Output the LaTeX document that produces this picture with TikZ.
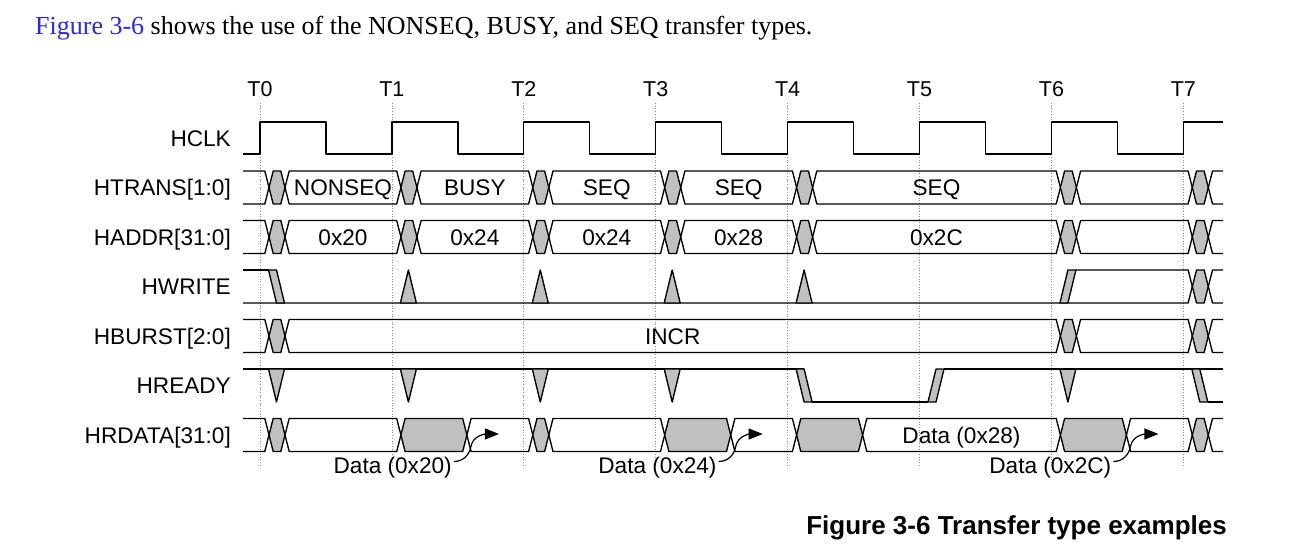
\documentclass[tikz,border=0pt]{standalone}
\usepackage{fontspec}
\setmainfont{Liberation Serif}
\setsansfont{Liberation Sans}
\usetikzlibrary{arrows.meta}
\definecolor{gfill}{HTML}{C0C0C0}
\definecolor{linkblue}{HTML}{2B2BD6}
\def\tk#1{(260+131.9*#1)}
\def\hx{4.2}
\def\hh{16.5}
\newcommand\valbox[4]{\draw[sig,fill=#4] ({#1},#3) -- ({#1+\hx},{#3-\hh}) -- ({#2-\hx},{#3-\hh}) -- ({#2},#3) -- ({#2-\hx},{#3+\hh}) -- ({#1+\hx},{#3+\hh}) -- cycle;}
\newcommand\openL[2]{\draw[sig] (243,{#2-\hh}) -- ({#1-\hx},{#2-\hh}) -- ({#1},#2) -- ({#1-\hx},{#2+\hh}) -- (243,{#2+\hh});}
\newcommand\openR[2]{\draw[sig] (1223,{#2-\hh}) -- ({#1+\hx},{#2-\hh}) -- ({#1},#2) -- ({#1+\hx},{#2+\hh}) -- (1223,{#2+\hh});}
\newcommand\gx[2]{\valbox{\tk#1+9}{\tk#1+25}{#2}{gfill}}
\newcommand\stdbus[1]{%
  \openL{\tk0+9}{#1}
  \gx{0}{#1}\valbox{\tk0+25}{\tk1+9}{#1}{none}
  \gx{1}{#1}\valbox{\tk1+25}{\tk2+9}{#1}{none}
  \gx{2}{#1}\valbox{\tk2+25}{\tk3+9}{#1}{none}
  \gx{3}{#1}\valbox{\tk3+25}{\tk4+9}{#1}{none}
  \gx{4}{#1}\valbox{\tk4+25}{\tk6+9}{#1}{none}
  \gx{6}{#1}\valbox{\tk6+25}{\tk7+9}{#1}{none}
  \gx{7}{#1}\openR{\tk7+25}{#1}}
\begin{document}
\begin{tikzpicture}[x=1pt,y=-1pt,
  sig/.style={line width=1.35pt, draw=black, line join=round},
  guide/.style={line width=0.7pt, draw=black!45, dotted},
  lab/.style={font=\sffamily\fontsize{22.6}{26}\selectfont, inner sep=0pt},
  tlab/.style={font=\sffamily\fontsize{21.5}{25}\selectfont, inner sep=0pt, anchor=base},
  arr/.style={line width=1.2pt, -{Triangle[length=14pt,width=11pt]}}]
\useasboundingbox (0,0) rectangle (1303,551);
\fill[white] (0,0) rectangle (1303,551);

% title and caption
\node[anchor=base west, inner sep=0pt, font=\fontsize{26}{30}\selectfont] (title) at (35,34.5)
  {\textcolor{linkblue}{Figure 3-6} shows the use of the NONSEQ, BUSY, and SEQ transfer types.};
\node[anchor=base east, inner sep=0pt, font=\sffamily\bfseries\fontsize{26}{30}\selectfont] (caption) at (1227,534)
  {Figure 3-6 Transfer type examples};

% clock edge guides and labels
\foreach \k in {0,...,7}{
  \draw[guide] ({\tk\k},103) -- ({\tk\k},466);
  \node[tlab] (T\k) at ({\tk\k},96) {T\k};
}

% signal names
\node[lab, anchor=base east] (nHCLK) at (231,146) {HCLK};
\node[lab, anchor=base east] (nHTRANS) at (231,195.5) {HTRANS[1:0]};
\node[lab, anchor=base east] (nHADDR) at (231,245) {HADDR[31:0]};
\node[lab, anchor=base east] (nHWRITE) at (231,294.5) {HWRITE};
\node[lab, anchor=base east] (nHBURST) at (231,344) {HBURST[2:0]};
\node[lab, anchor=base east] (nHREADY) at (231,393.5) {HREADY};
\node[lab, anchor=base east] (nHRDATA) at (231,443) {HRDATA[31:0]};

% HCLK
\draw[sig] (243,154) -- (260,154) -- (260,122) -- (325.95,122) -- (325.95,154)
  -- (391.9,154) -- (391.9,122) -- (457.85,122) -- (457.85,154)
  -- (523.8,154) -- (523.8,122) -- (589.75,122) -- (589.75,154)
  -- (655.7,154) -- (655.7,122) -- (721.65,122) -- (721.65,154)
  -- (787.6,154) -- (787.6,122) -- (853.55,122) -- (853.55,154)
  -- (919.5,154) -- (919.5,122) -- (985.45,122) -- (985.45,154)
  -- (1051.4,154) -- (1051.4,122) -- (1117.35,122) -- (1117.35,154)
  -- (1183.3,154) -- (1183.3,122) -- (1223,122);

% HTRANS
\stdbus{187.5}
\node[lab, anchor=base] (vNONSEQ) at (342.95,195.5) {NONSEQ};
\node[lab, anchor=base] (vBUSY) at (474.85,195.5) {BUSY};
\node[lab, anchor=base] (vSEQa) at (606.75,195.5) {SEQ};
\node[lab, anchor=base] (vSEQb) at (738.65,195.5) {SEQ};
\node[lab, anchor=base] (vSEQc) at (936.5,195.5) {SEQ};

% HADDR
\stdbus{237}
\node[lab, anchor=base] (a20) at (342.95,245) {0x20};
\node[lab, anchor=base] (a24) at (474.85,245) {0x24};
\node[lab, anchor=base] (a24b) at (606.75,245) {0x24};
\node[lab, anchor=base] (a28) at (738.65,245) {0x28};
\node[lab, anchor=base] (a2C) at (936.5,245) {0x2C};

% HWRITE
\draw[sig] (243,270) -- ({\tk0+8.5},270);
\draw[sig] (243,303) -- ({\tk7+9-\hx},303) -- ({\tk7+9},286.5);
\draw[sig] ({\tk6+24.5},270) -- ({\tk7+9-\hx},270) -- ({\tk7+9},286.5);
\draw[sig,fill=gfill] ({\tk0+8.5},270) -- ({\tk0+16.5},270) -- ({\tk0+24.5},303) -- ({\tk0+16.5},303) -- cycle;
\foreach \k in {1,2,3,4}{
  \draw[sig,fill=gfill] ({\tk\k+8.5},303) -- ({\tk\k+16.5},270) -- ({\tk\k+24.5},303) -- cycle;
}
\draw[sig,fill=gfill] ({\tk6+8.5},303) -- ({\tk6+16.5},270) -- ({\tk6+24.5},270) -- ({\tk6+16.5},303) -- cycle;
\gx{7}{286.5}
\openR{\tk7+25}{286.5}

% HBURST
\openL{\tk0+9}{336}
\gx{0}{336}\valbox{\tk0+25}{\tk6+9}{336}{none}
\gx{6}{336}\valbox{\tk6+25}{\tk7+9}{336}{none}
\gx{7}{336}\openR{\tk7+25}{336}
\node[lab, anchor=base] (vINCR) at (672.7,344) {INCR};

% HREADY
\draw[sig] (243,369) -- ({\tk4+16.5},369);
\foreach \k in {0,1,2,3,6}{
  \draw[sig,fill=gfill] ({\tk\k+8.5},369) -- ({\tk\k+16.5},402) -- ({\tk\k+24.5},369) -- cycle;
}
\draw[sig,fill=gfill] ({\tk4+8.5},369) -- ({\tk4+16.5},369) -- ({\tk4+24.5},402) -- ({\tk4+16.5},402) -- cycle;
\draw[sig] ({\tk4+24.5},402) -- ({\tk5+8.5},402);
\draw[sig,fill=gfill] ({\tk5+8.5},402) -- ({\tk5+16.5},369) -- ({\tk5+24.5},369) -- ({\tk5+16.5},402) -- cycle;
\draw[sig] ({\tk5+24.5},369) -- (1223,369);
\draw[sig,fill=gfill] ({\tk7+8.5},369) -- ({\tk7+16.5},369) -- ({\tk7+24.5},402) -- ({\tk7+16.5},402) -- cycle;
\draw[sig] ({\tk7+24.5},402) -- (1223,402);

% HRDATA
\openL{\tk0+9}{435}
\gx{0}{435}\valbox{\tk0+25}{\tk1+9}{435}{none}
\valbox{\tk1+9}{\tk1+75}{435}{gfill}\valbox{\tk1+75}{\tk2+9}{435}{none}
\gx{2}{435}\valbox{\tk2+25}{\tk3+9}{435}{none}
\valbox{\tk3+9}{\tk3+75}{435}{gfill}\valbox{\tk3+75}{\tk4+9}{435}{none}
\valbox{\tk4+9}{\tk4+75}{435}{gfill}\valbox{\tk4+75}{\tk6+9}{435}{none}
\valbox{\tk6+9}{\tk6+75}{435}{gfill}\valbox{\tk6+75}{\tk7+9}{435}{none}
\gx{7}{435}\openR{\tk7+25}{435}
\node[lab, anchor=base] (v28) at (961.5,443) {Data (0x28)};

% data labels with arrows
\node[lab, anchor=base east] (d20) at ({\tk1+60},473.5) {Data (0x20)};
\node[lab, anchor=base east] (d24) at ({\tk3+61},473.5) {Data (0x24)};
\node[lab, anchor=base east] (d2C) at ({\tk6+60},473.5) {Data (0x2C)};
\coordinate (p20) at ({\tk1+107},434);
\coordinate (p24) at ({\tk3+107},434);
\coordinate (p2C) at ({\tk6+107},434);
\draw[arr] ([xshift=2pt,yshift=12pt]d20.base east) to[out=0,in=-100] ++(17,-15) to[out=80,in=180] (p20);
\draw[arr] ([xshift=2pt,yshift=12pt]d24.base east) to[out=0,in=-100] ++(17,-15) to[out=80,in=180] (p24);
\draw[arr] ([xshift=2pt,yshift=12pt]d2C.base east) to[out=0,in=-100] ++(17,-15) to[out=80,in=180] (p2C);
\end{tikzpicture}
\end{document}
